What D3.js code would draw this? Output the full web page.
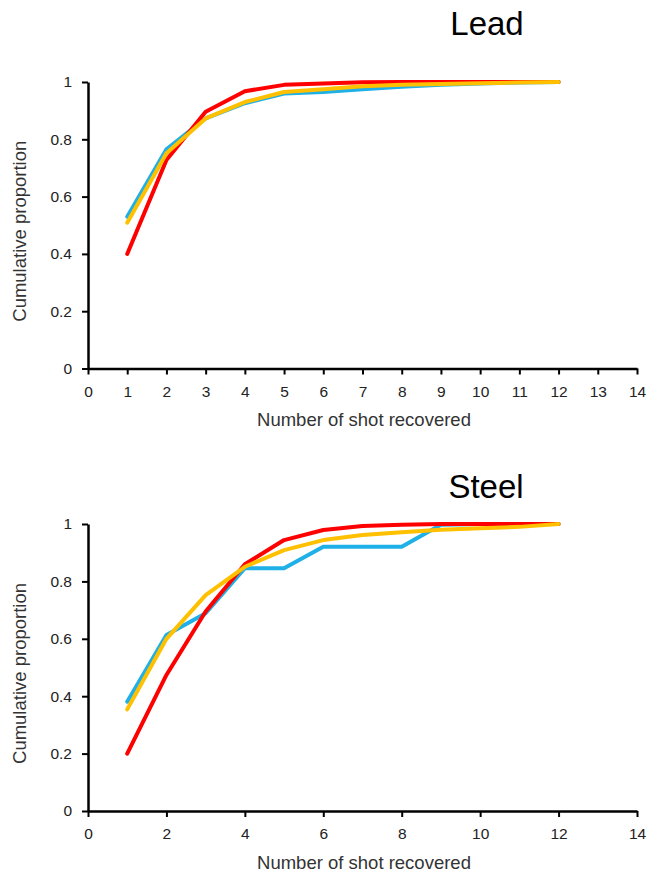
<!DOCTYPE html>
<html>
<head>
<meta charset="utf-8">
<script src="https://cdn.jsdelivr.net/npm/d3@7"></script>
<style>
  body { margin: 0; background: #fff; }
  svg text { font-family: "Liberation Sans", Arial, sans-serif; fill: #222; }
</style>
</head>
<body>
<svg width="652" height="876"></svg>
<script>
// shots recovered (x)
const shots = [1, 2, 3, 4, 5, 6, 7, 8, 9, 10, 11, 12];

// Lead panel
const leadBlue   = [0.53, 0.765, 0.873, 0.926, 0.96, 0.965, 0.975, 0.983, 0.99, 0.995, 0.998, 1];
const leadYellow = [0.509, 0.751, 0.873, 0.93, 0.965, 0.975, 0.985, 0.99, 0.993, 0.996, 0.998, 1];
const leadRed    = [0.4, 0.728, 0.896, 0.968, 0.99, 0.995, 0.999, 1, 1, 1, 1, 1];

// Steel panel
const steelBlue   = [0.381, 0.613, 0.689, 0.846, 0.846, 0.921, 0.921, 0.921, 0.997, 1, 1, 1];
const steelYellow = [0.354, 0.6, 0.752, 0.851, 0.909, 0.944, 0.962, 0.971, 0.98, 0.985, 0.99, 1];
const steelRed    = [0.2, 0.474, 0.695, 0.86, 0.944, 0.979, 0.993, 0.997, 1, 1, 1, 1];

const yTicks = [0, 0.2, 0.4, 0.6, 0.8, 1];
const leadXTicks = d3.range(0, 15, 1);
const steelXTicks = d3.range(0, 15, 2);

const svg = d3.select("svg");

const colors = { blue: "#1EB0E6", red: "#FF0000", yellow: "#FFC000" };

function panel(opts) {
  const x = d3.scaleLinear().domain([0, 14]).range([88, 637]);
  const y = d3.scaleLinear().domain([0, 1]).range([opts.y0, opts.y1]);
  const g = svg.append("g");

  // axes
  const xAxis = g.append("g")
    .attr("transform", `translate(0,${opts.y0})`)
    .call(d3.axisBottom(x).tickValues(opts.xTicks).tickFormat(d3.format("d")).tickSize(6).tickSizeOuter(0).tickPadding(11));
  const yAxis = g.append("g")
    .attr("transform", `translate(88,0)`)
    .call(d3.axisLeft(y).tickValues(yTicks).tickFormat(d => d === 0 || d === 1 ? d : d3.format(".1f")(d)).tickSize(6).tickSizeOuter(0).tickPadding(10));

  [xAxis, yAxis].forEach(a => {
    a.select(".domain").attr("stroke", "#000").attr("stroke-width", 2.5);
    a.selectAll(".tick line").attr("stroke", "#000").attr("stroke-width", 2);
    a.selectAll(".tick text").attr("font-size", 15.5).attr("fill", "#333");
  });

  // series lines
  const line = d3.line().x((d, i) => x(shots[i])).y(d => y(d));
  opts.series.forEach(s => {
    g.append("path")
      .datum(s.values)
      .attr("fill", "none")
      .attr("stroke", s.color)
      .attr("stroke-width", 4)
      .attr("stroke-linejoin", "round")
      .attr("stroke-linecap", "round")
      .attr("d", line);
  });

  // titles
  g.append("text")
    .attr("x", opts.titleX).attr("y", opts.titleY)
    .attr("text-anchor", "middle")
    .attr("font-size", 33)
    .style("fill", "#000")
    .text(opts.title);

  g.append("text")
    .attr("x", 364).attr("y", opts.y0 + 57.5)
    .attr("text-anchor", "middle")
    .attr("font-size", 18.5)
    .style("fill", "#333")
    .text("Number of shot recovered");

  g.append("text")
    .attr("transform", `translate(26,${(opts.y0 + opts.y1) / 2 + 6}) rotate(-90)`)
    .attr("text-anchor", "middle")
    .attr("font-size", 18.5)
    .style("fill", "#333")
    .text("Cumulative proportion");
}

panel({
  title: "Lead", titleX: 487, titleY: 35,
  y0: 368.5, y1: 82,
  xTicks: leadXTicks,
  series: [
    { values: leadBlue, color: colors.blue },
    { values: leadRed, color: colors.red },
    { values: leadYellow, color: colors.yellow }
  ]
});

panel({
  title: "Steel", titleX: 486, titleY: 498,
  y0: 811, y1: 524,
  xTicks: steelXTicks,
  series: [
    { values: steelBlue, color: colors.blue },
    { values: steelRed, color: colors.red },
    { values: steelYellow, color: colors.yellow }
  ]
});
</script>
</body>
</html>
